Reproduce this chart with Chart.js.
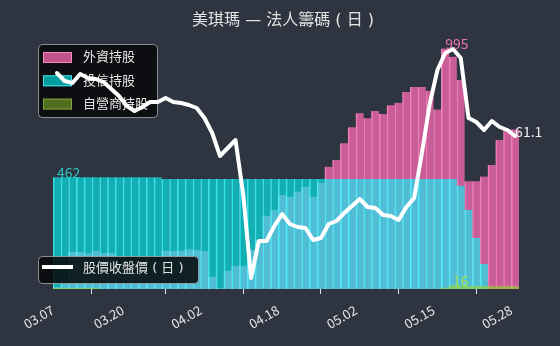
<!DOCTYPE html>
<html>
<head>
<meta charset="utf-8">
<script src="https://cdn.jsdelivr.net/npm/chart.js@4.4.1/dist/chart.umd.min.js"></script>
<style>
  html, body { margin: 0; padding: 0; background: #2f3540; }
  #wrap { width: 560px; height: 346px; }
</style>
</head>
<body>
<div id="wrap"><canvas id="chip-chart" width="560" height="346"></canvas></div>
<script>
// ===== 美琪瑪 — 法人籌碼（日）=====
const dates = [
  '03.07','03.08','03.09','03.12','03.13','03.14','03.15','03.16','03.19','03.20',
  '03.21','03.22','03.23','03.26','03.27','03.28','03.29','03.30','03.31','04.02',
  '04.03','04.08','04.09','04.10','04.11','04.12','04.13','04.16','04.17','04.18',
  '04.19','04.20','04.23','04.24','04.25','04.26','04.27','04.30','05.01','05.02',
  '05.03','05.04','05.06','05.07','05.08','05.09','05.10','05.13','05.14','05.15',
  '05.16','05.17','05.18','05.20','05.21','05.22','05.23','05.24','05.27','05.28'
];
const tickDates = ['03.07', '03.20', '04.02', '04.18', '05.02', '05.15', '05.28'];

// 外資持股
const foreignHold = [
  8, 30, 155, 153, 148, 158, 148, 150, 110, 105,
  115, 100, 108, 112, 158, 158, 158, 164, 161, 157,
  51, 3, 75, 96, 96, 161, 203, 303, 327, 390,
  382, 403, 423, 382, 440, 506, 534, 603, 669, 727,
  706, 736, 724, 760, 770, 815, 836, 836, 820, 742,
  995, 961, 865, 446, 446, 465, 513, 616, 660, 660
];
// 投信持股
const trustHold = [
  462, 462, 462, 462, 462, 462, 462, 462, 462, 462,
  462, 462, 462, 462, 455, 455, 455, 455, 455, 455,
  455, 455, 455, 455, 455, 455, 455, 455, 455, 455,
  455, 455, 455, 455, 455, 455, 455, 455, 455, 455,
  455, 455, 455, 455, 455, 455, 455, 455, 455, 455,
  455, 455, 427, 327, 211, 103, 0, 0, 0, 0
];
// 自營商持股
const dealerHold = [
  5, 5, 5, 5, 5, 5, 0, 0, 0, 0,
  0, 0, 0, 0, 0, 0, 0, 0, 0, 0,
  0, 0, 0, 0, 0, 0, 0, 0, 0, 0,
  0, 0, 0, 0, 0, 0, 0, 0, 0, 0,
  0, 0, 0, 0, 0, 0, 0, 0, 0, 0,
  6, 16, 13, 13, 13, 13, 12, 12, 12, 12
];
// 股價收盤價
const closePrice = [
  64.25, 63.85, 63.75, 64.2, 64.0, 63.95, 63.8, 63.45, 63.1, 62.6,
  62.35, 62.55, 62.8, 62.8, 63.0, 62.8, 62.75, 62.65, 62.5, 62.0,
  61.25, 60.1, 60.5, 60.9, 58.15, 54.0, 55.85, 55.85, 56.6, 57.2,
  56.7, 56.55, 56.5, 55.9, 56.0, 56.7, 56.85, 57.25, 57.6, 57.95,
  57.55, 57.5, 57.15, 57.1, 56.9, 57.55, 58.0, 60.25, 62.7, 64.4,
  65.25, 65.45, 65.0, 62.0, 61.8, 61.4, 61.85, 61.55, 61.4, 61.1
];

const FONT = '"Noto Sans CJK TC", "Noto Sans", sans-serif';
const TEXT_FONT = '"DejaVu Sans", "Noto Sans CJK TC", sans-serif';

// 圖例（畫在長條之上、股價線之下）
const legendBoxes = {
  id: 'legendBoxes',
  beforeDatasetDraw(chart, args) {
    if (args.index !== 3) return;
    const ctx = chart.ctx;
    ctx.save();
    const box = (x, y, w, h) => {
      ctx.beginPath();
      ctx.roundRect(x, y, w, h, 4);
      ctx.fillStyle = 'rgba(8, 9, 10, 0.88)';
      ctx.fill();
      ctx.strokeStyle = 'rgba(170, 170, 170, 0.8)';
      ctx.lineWidth = 1;
      ctx.stroke();
    };
    ctx.font = '13px ' + TEXT_FONT;
    ctx.textBaseline = 'middle';

    box(38.5, 44.5, 119, 73);
    const items = [
      ['外資持股', 'rgba(255, 105, 180, 0.75)', 'rgba(255, 150, 205, 0.8)'],
      ['投信持股', 'rgba(0, 255, 255, 0.6)', 'rgba(90, 240, 250, 0.8)'],
      ['自營商持股', 'rgba(154, 205, 50, 0.5)', 'rgba(170, 220, 80, 0.5)']
    ];
    items.forEach(([text, fill, edge], k) => {
      const y = 52 + k * 23.3;
      ctx.fillStyle = fill;
      ctx.fillRect(43, y, 29, 11);
      ctx.strokeStyle = edge;
      ctx.strokeRect(43.5, y + 0.5, 28, 10);
      ctx.fillStyle = '#e2e2e2';
      ctx.fillText(text, 83, y + 6);
    });

    box(38.5, 256.5, 160, 27);
    ctx.fillStyle = '#ffffff';
    ctx.fillRect(42, 265, 31, 4);
    ctx.fillStyle = '#e2e2e2';
    ctx.fillText('股價收盤價 ( 日 )', 83, 268.5);
    ctx.restore();
  }
};

// 標註數值
const valueLabels = {
  id: 'valueLabels',
  afterDatasetsDraw(chart) {
    const ctx = chart.ctx;
    const marks = [
      { ds: 0, idx: foreignHold.indexOf(Math.max(...foreignHold)), text: String(Math.max(...foreignHold)), color: '#e672ad' },
      { ds: 1, idx: trustHold.indexOf(Math.max(...trustHold)), text: String(Math.max(...trustHold)), color: '#2cc6c8' },
      { ds: 2, idx: dealerHold.indexOf(Math.max(...dealerHold)), text: String(Math.max(...dealerHold)), color: '#a6dc52' },
      { ds: 3, idx: closePrice.length - 1, text: closePrice[closePrice.length - 1].toFixed(1), color: '#eeeeee' }
    ];
    ctx.save();
    ctx.font = '14px ' + FONT;
    ctx.textAlign = 'left';
    ctx.textBaseline = 'alphabetic';
    marks.forEach(m => {
      const el = chart.getDatasetMeta(m.ds).data[m.idx];
      ctx.fillStyle = m.color;
      ctx.fillText(m.text, el.x, el.y + 1);
    });
    ctx.restore();
  }
};

const ctx = document.getElementById('chip-chart').getContext('2d');
const barStyle = {
  type: 'bar',
  yAxisID: 'y',
  grouped: false,
  barPercentage: 1,
  categoryPercentage: 1,
  borderSkipped: false,
  borderWidth: { left: 1, right: 0, top: 0, bottom: 0 }
};

new Chart(ctx, {
  data: {
    labels: dates,
    datasets: [
      { ...barStyle, label: '外資持股', data: foreignHold, order: 3,
        backgroundColor: 'rgba(255, 105, 180, 0.75)', borderColor: 'rgba(255, 150, 205, 0.85)' },
      { ...barStyle, label: '投信持股', data: trustHold, order: 2,
        backgroundColor: 'rgba(0, 255, 255, 0.6)', borderColor: 'rgba(90, 240, 250, 0.85)' },
      { ...barStyle, label: '自營商持股', data: dealerHold, order: 1,
        backgroundColor: 'rgba(154, 215, 50, 0.6)', borderColor: 'rgba(154, 215, 50, 0.6)' },
      { type: 'line', label: '股價收盤價 ( 日 )', data: closePrice, yAxisID: 'y2', order: 0,
        borderColor: '#ffffff', borderWidth: 4, pointRadius: 0, tension: 0,
        borderJoinStyle: 'round', borderCapStyle: 'round' }
    ]
  },
  options: {
    responsive: false,
    animation: false,
    devicePixelRatio: 1,
    layout: { padding: { left: 53, right: 41, top: 40, bottom: 0 } },
    plugins: {
      legend: { display: false },
      tooltip: { enabled: false },
      title: { display: false }
    },
    scales: {
      x: {
        offset: true,
        border: { display: false },
        grid: { drawOnChartArea: false, drawTicks: true, tickLength: 5, color: '#e0e0e0' },
        ticks: {
          autoSkip: false,
          minRotation: 30,
          maxRotation: 30,
          color: '#e6e6e6',
          font: { family: FONT, size: 13 },
          padding: 8,
          labelOffset: -4,
          callback: function (v) {
            const d = this.getLabelForValue(v);
            return tickDates.includes(d) ? d : null;
          }
        },
        afterFit: (scale) => { scale.height = 57; }
      },
      y: { display: false, min: 0, max: 1030 },
      y2: { display: false, min: 53.45, max: 65.9 }
    }
  },
  plugins: [legendBoxes, valueLabels, {
    id: 'chartTitle',
    afterDraw(chart) {
      const c = chart.ctx;
      c.save();
      c.font = '16px ' + TEXT_FONT;
      c.fillStyle = '#e4e4e4';
      c.textAlign = 'center';
      c.textBaseline = 'middle';
      c.fillText('美琪瑪 — 法人籌碼 ( 日 )', 283, 21);
      c.restore();
    }
  }]
});
</script>
</body>
</html>
